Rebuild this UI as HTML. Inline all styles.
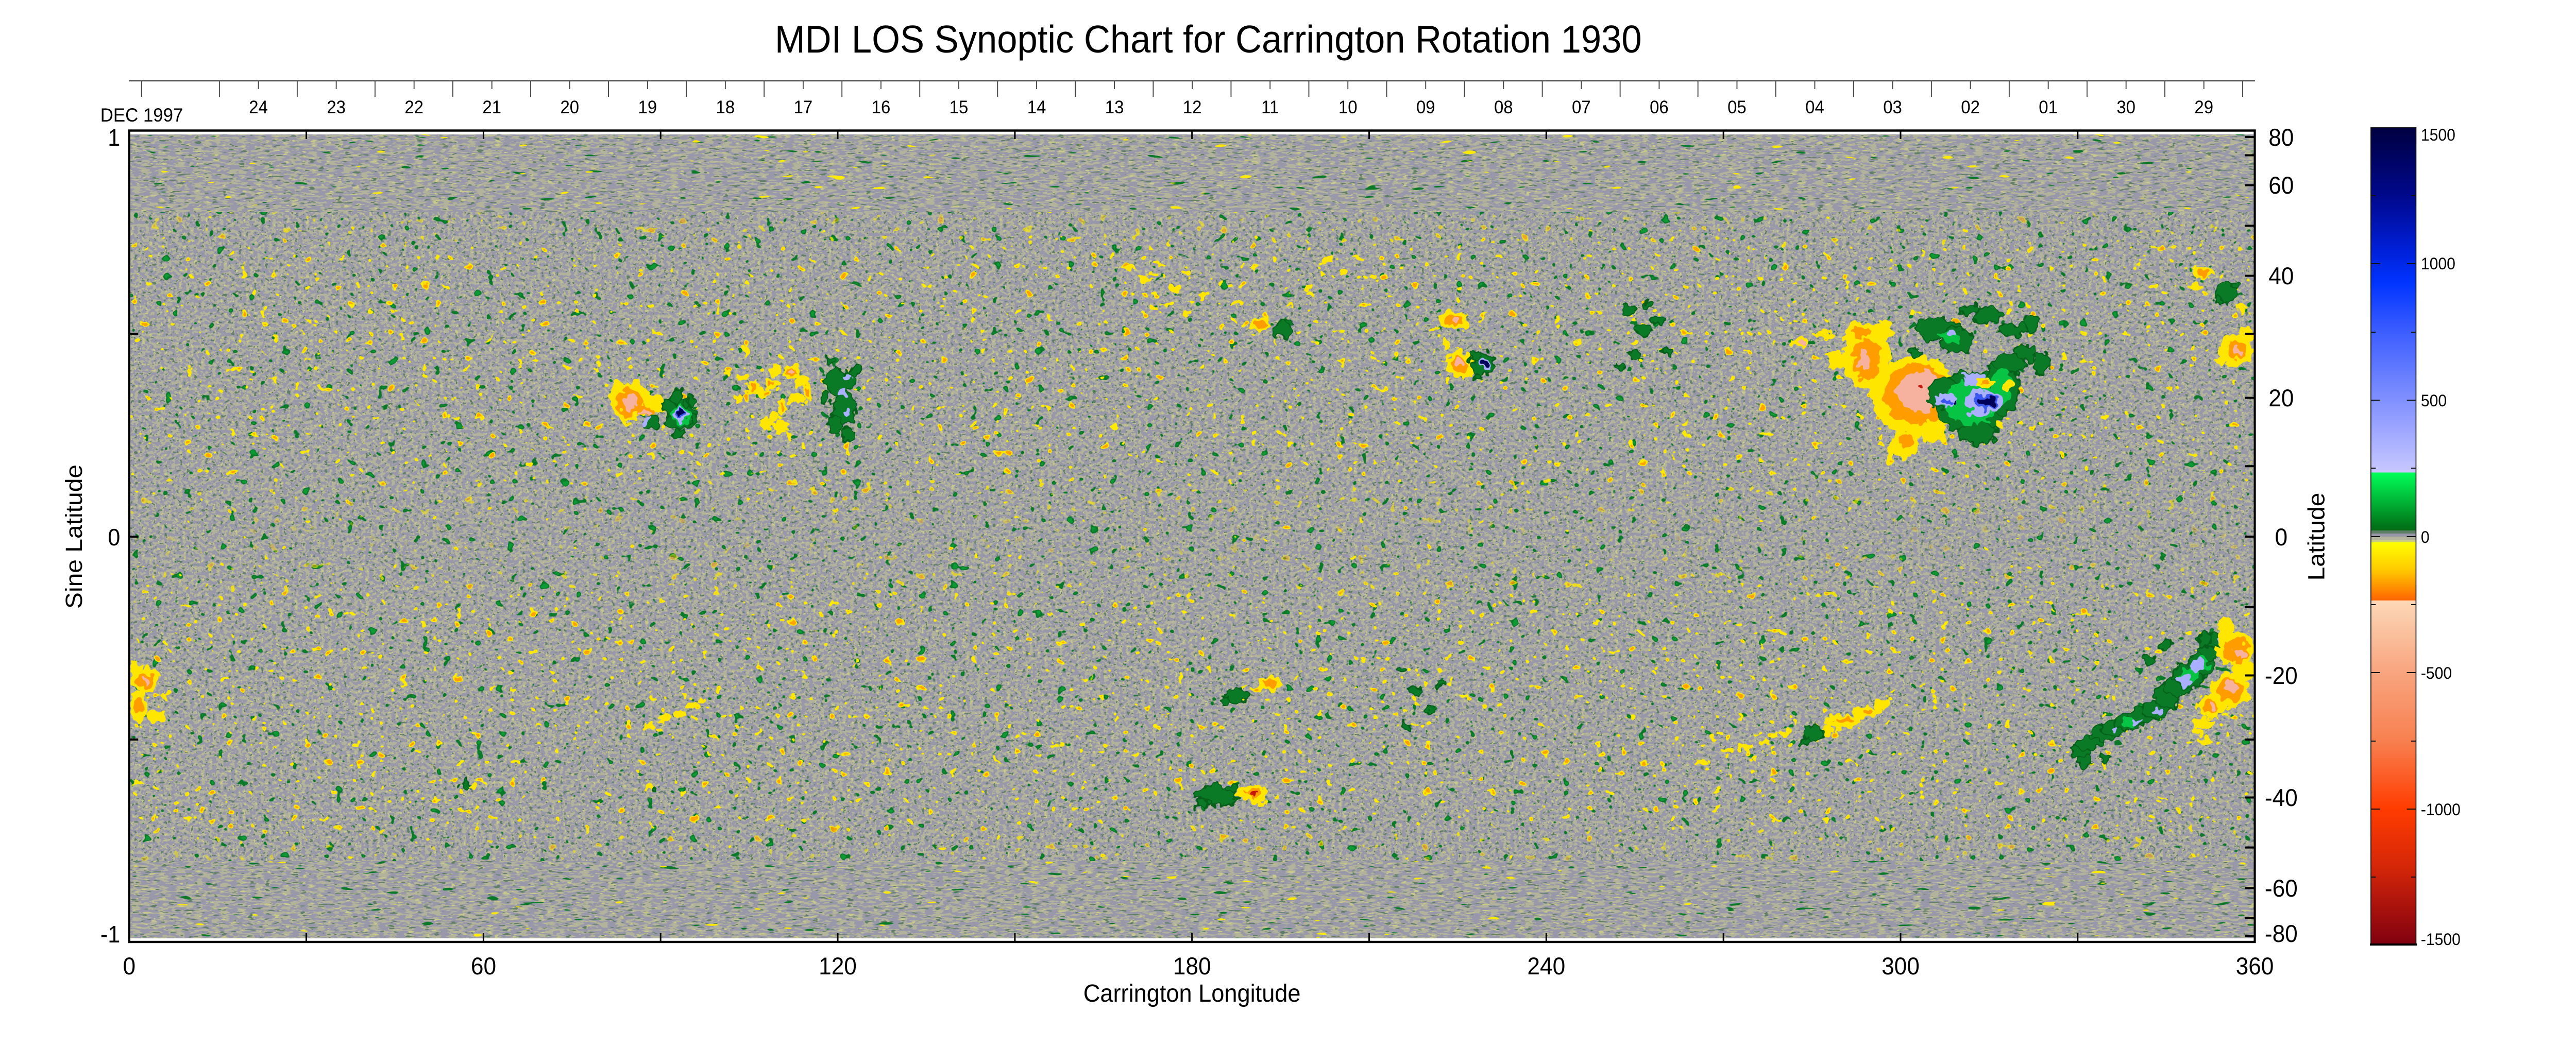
<!DOCTYPE html>
<html><head><meta charset="utf-8">
<style>
html,body{margin:0;padding:0;background:#fff;width:100%;height:100%;overflow:hidden}
svg{position:fixed;left:0;top:0;width:100vw;height:100vh;display:block}
text{font-family:"Liberation Sans",Arial,Helvetica,sans-serif;fill:#000}
</style></head>
<body>
<svg xmlns="http://www.w3.org/2000/svg" viewBox="0 0 5313 2033" preserveAspectRatio="none">
<defs>
<style>
.y{fill:#ffe600}.o{fill:#ff9c00}.p{fill:#f6b29e}.r{fill:#c41808}
.g{fill:#0a7a26;stroke:#06601a;stroke-width:3}.gb{fill:#08c444}.lb{fill:#aab0ff}.b{fill:#3a58f0}.n{fill:#000058}
</style>
<clipPath id="dc"><rect x="268.5" y="261" width="4380" height="1561"/></clipPath>

<filter id="texm" x="0" y="0" width="1" height="1" color-interpolation-filters="sRGB">
 <feTurbulence type="fractalNoise" baseFrequency="0.13 0.17" numOctaves="2" seed="11" result="n"/>
 <feColorMatrix in="n" type="matrix" values="0 0 0 0 0.702 0 0 0 0 0.702 0 0 0 0 0.608 30 0 0 0 -15" result="k"/>
 <feColorMatrix in="n" type="matrix" values="0 0 0 0 0.79 0 0 0 0 0.79 0 0 0 0 0.54 0 0 30 0 -20.4" result="l"/>
 <feColorMatrix in="n" type="matrix" values="0 0 0 0 0.373 0 0 0 0 0.498 0 0 0 0 0.4 0 30 0 0 -19.8" result="d"/>
 <feMerge><feMergeNode in="k"/><feMergeNode in="l"/><feMergeNode in="d"/></feMerge>
</filter>
<filter id="texp" x="0" y="0" width="1" height="1" color-interpolation-filters="sRGB">
 <feTurbulence type="fractalNoise" baseFrequency="0.055 0.24" numOctaves="2" seed="13" result="n"/>
 <feColorMatrix in="n" type="matrix" values="0 0 0 0 0.702 0 0 0 0 0.702 0 0 0 0 0.608 30 0 0 0 -15" result="k"/>
 <feColorMatrix in="n" type="matrix" values="0 0 0 0 0.79 0 0 0 0 0.79 0 0 0 0 0.54 0 0 30 0 -20.4" result="l"/>
 <feColorMatrix in="n" type="matrix" values="0 0 0 0 0.373 0 0 0 0 0.498 0 0 0 0 0.4 0 30 0 0 -19.8" result="d"/>
 <feMerge><feMergeNode in="k"/><feMergeNode in="l"/><feMergeNode in="d"/></feMerge>
</filter>
<filter id="spkm" x="0" y="0" width="1" height="1" color-interpolation-filters="sRGB">
 <feTurbulence type="fractalNoise" baseFrequency="0.045 0.055" numOctaves="2" seed="51" result="n"/>
 <feColorMatrix in="n" type="matrix" values="0 0 0 0 0.04 0 0 0 0 0.48 0 0 0 0 0.16 40 0 0 0 -28.4" result="g"/>
 <feColorMatrix in="n" type="matrix" values="0 0 0 0 0.05 0 0 0 0 0.6 0 0 0 0 0.2 40 0 0 0 -31.6" result="g2"/>
 <feColorMatrix in="n" type="matrix" values="0 0 0 0 1 0 0 0 0 0.92 0 0 0 0 0 0 40 0 0 -32" result="y"/>
 <feColorMatrix in="n" type="matrix" values="0 0 0 0 1 0 0 0 0 0.62 0 0 0 0 0 0 40 0 0 -34.4" result="y2"/>
 <feMerge><feMergeNode in="g"/><feMergeNode in="g2"/><feMergeNode in="y"/><feMergeNode in="y2"/></feMerge>
</filter>
<filter id="spkp" x="0" y="0" width="1" height="1" color-interpolation-filters="sRGB">
 <feTurbulence type="fractalNoise" baseFrequency="0.02 0.1" numOctaves="2" seed="53" result="n"/>
 <feColorMatrix in="n" type="matrix" values="0 0 0 0 0.04 0 0 0 0 0.48 0 0 0 0 0.16 40 0 0 0 -30.4" result="g"/>
 <feColorMatrix in="n" type="matrix" values="0 0 0 0 1 0 0 0 0 0.92 0 0 0 0 0 0 40 0 0 -31.2" result="y"/>
 <feMerge><feMergeNode in="g"/><feMergeNode in="y"/></feMerge>
</filter>
<filter id="ybx" x="0" y="0" width="1" height="1" color-interpolation-filters="sRGB">
 <feTurbulence type="fractalNoise" baseFrequency="0.045 0.055" numOctaves="2" seed="77" result="n"/>
 <feColorMatrix in="n" type="matrix" values="0 0 0 0 1 0 0 0 0 0.92 0 0 0 0 0 0 0 40 0 -28.6" result="y"/>
 <feColorMatrix in="n" type="matrix" values="0 0 0 0 1 0 0 0 0 0.64 0 0 0 0 0 0 0 40 0 -31.6" result="y2"/>
 <feMerge><feMergeNode in="y"/><feMergeNode in="y2"/></feMerge>
</filter>
<filter id="org" filterUnits="userSpaceOnUse" x="260" y="250" width="4400" height="1580" color-interpolation-filters="sRGB">
 <feTurbulence type="fractalNoise" baseFrequency="0.06" numOctaves="2" seed="5" result="t"/>
 <feDisplacementMap in="SourceGraphic" in2="t" scale="26" xChannelSelector="R" yChannelSelector="B"/>
</filter>
<linearGradient id="ymg" gradientUnits="userSpaceOnUse" x1="0" y1="255" x2="0" y2="1830">
 <stop offset="0" stop-color="#000"/><stop offset="0.07" stop-color="#111"/>
 <stop offset="0.15" stop-color="#fff"/><stop offset="0.42" stop-color="#fff"/>
 <stop offset="0.5" stop-color="#333"/><stop offset="0.58" stop-color="#fff"/>
 <stop offset="0.85" stop-color="#fff"/><stop offset="0.93" stop-color="#111"/><stop offset="1" stop-color="#000"/>
</linearGradient>
<mask id="ym" maskUnits="userSpaceOnUse" x="260" y="250" width="4400" height="1590">
 <rect x="260" y="250" width="4400" height="1590" fill="url(#ymg)"/>
</mask>
<linearGradient id="cb" x1="0" y1="0" x2="0" y2="1">
 <stop offset="0" stop-color="#000040"/>
 <stop offset="0.083" stop-color="#00088c"/>
 <stop offset="0.15" stop-color="#0020d8"/>
 <stop offset="0.19" stop-color="#0034ff"/>
 <stop offset="0.25" stop-color="#3d5eff"/>
 <stop offset="0.333" stop-color="#8090ff"/>
 <stop offset="0.422" stop-color="#c8c8ff"/>
 <stop offset="0.422" stop-color="#00ff58"/>
 <stop offset="0.4928" stop-color="#006a14"/>
 <stop offset="0.4928" stop-color="#5e7e66"/>
 <stop offset="0.4965" stop-color="#5e7e66"/>
 <stop offset="0.4965" stop-color="#9898a8"/>
 <stop offset="0.5003" stop-color="#9898a8"/>
 <stop offset="0.5003" stop-color="#b4b49c"/>
 <stop offset="0.5041" stop-color="#b4b49c"/>
 <stop offset="0.5041" stop-color="#caca8a"/>
 <stop offset="0.5072" stop-color="#caca8a"/>
 <stop offset="0.5072" stop-color="#ffff00"/>
 <stop offset="0.54" stop-color="#ffcc00"/>
 <stop offset="0.5785" stop-color="#ff6400"/>
 <stop offset="0.5785" stop-color="#fcd8b8"/>
 <stop offset="0.667" stop-color="#f8a47e"/>
 <stop offset="0.75" stop-color="#f88050"/>
 <stop offset="0.833" stop-color="#ff3c00"/>
 <stop offset="0.9" stop-color="#d82808"/>
 <stop offset="1" stop-color="#800010"/>
</linearGradient>
</defs>

<rect width="5313" height="2033" fill="#fff"/>

<!-- Title -->
<text x="1598" y="102" font-size="75">MDI LOS Synoptic Chart for Carrington Rotation 1930</text>

<!-- Date axis -->
<line x1="266" y1="157" x2="4651" y2="157" stroke="#444" stroke-width="2.2"/>
<path stroke="#444" stroke-width="2" fill="none" d="M292 157V188M452.5 157V188M613 157V188M773.5 157V188M934 157V188M1094.5 157V188M1255 157V188M1415.5 157V188M1576 157V188M1736.5 157V188M1897 157V188M2057.5 157V188M2218 157V188M2378.5 157V188M2539 157V188M2699.5 157V188M2860 157V188M3020.5 157V188M3181 157V188M3341.5 157V188M3502 157V188M3662.5 157V188M3823 157V188M3983.5 157V188M4144 157V188M4304.5 157V188M4465 157V188M4625.5 157V188"/>
<path stroke="#444" stroke-width="2" fill="none" d="M533 157V173M693.5 157V173M854 157V173M1014.5 157V173M1175 157V173M1335.5 157V173M1496 157V173M1656.5 157V173M1817 157V173M1977.5 157V173M2138 157V173M2298.5 157V173M2459 157V173M2619.5 157V173M2780 157V173M2940.5 157V173M3101 157V173M3261.5 157V173M3422 157V173M3582.5 157V173M3743 157V173M3903.5 157V173M4064 157V173M4224.5 157V173M4385 157V173M4545.5 157V173"/>
<g font-size="35" text-anchor="middle">
<text x="533" y="220">24</text><text x="693.5" y="220">23</text><text x="854" y="220">22</text><text x="1014.5" y="220">21</text>
<text x="1175" y="220">20</text><text x="1335.5" y="220">19</text><text x="1496" y="220">18</text><text x="1656.5" y="220">17</text>
<text x="1817" y="220">16</text><text x="1977.5" y="220">15</text><text x="2138" y="220">14</text><text x="2298.5" y="220">13</text>
<text x="2459" y="220">12</text><text x="2619.5" y="220">11</text><text x="2780" y="220">10</text><text x="2940.5" y="220">09</text>
<text x="3101" y="220">08</text><text x="3261.5" y="220">07</text><text x="3422" y="220">06</text><text x="3582.5" y="220">05</text>
<text x="3743" y="220">04</text><text x="3903.5" y="220">03</text><text x="4064" y="220">02</text><text x="4224.5" y="220">01</text>
<text x="4385" y="220">30</text><text x="4545.5" y="220">29</text>
</g>
<text x="207" y="236" font-size="37">DEC 1997</text>

<!-- Data -->
<g clip-path="url(#dc)">
 <rect x="268" y="255" width="4384" height="1575" fill="#9898aa"/>
 <rect x="268" y="255" width="2192" height="157" filter="url(#texp)"/>
 <rect x="2460" y="255" width="2192" height="157" filter="url(#texp)"/>
 <rect x="268" y="412" width="2192" height="1260" filter="url(#texm)"/>
 <rect x="2460" y="412" width="2192" height="1260" filter="url(#texm)"/>
 <rect x="268" y="1672" width="2192" height="158" filter="url(#texp)"/>
 <rect x="2460" y="1672" width="2192" height="158" filter="url(#texp)"/>

 <rect x="268" y="255" width="2192" height="157" filter="url(#spkp)"/>
 <rect x="2460" y="255" width="2192" height="157" filter="url(#spkp)"/>
 <rect x="268" y="412" width="2192" height="1260" filter="url(#spkm)"/>
 <rect x="2460" y="412" width="2192" height="1260" filter="url(#spkm)"/>
 <rect x="268" y="1672" width="2192" height="158" filter="url(#spkp)"/>
 <rect x="2460" y="1672" width="2192" height="158" filter="url(#spkp)"/>

 <g mask="url(#ym)">
  <rect x="268" y="412" width="2192" height="1260" filter="url(#ybx)"/>
  <rect x="2460" y="412" width="2192" height="1260" filter="url(#ybx)"/>
 </g>

 <g filter="url(#org)">
  <!-- Region A negative -->
  <ellipse cx="3950" cy="770" rx="90" ry="78" class="y"/>
  <ellipse cx="3850" cy="690" rx="50" ry="65" class="y"/>
  <ellipse cx="3835" cy="640" rx="30" ry="18" class="y"/>
  <ellipse cx="3880" cy="645" rx="25" ry="20" class="y"/>
  <ellipse cx="3930" cy="860" rx="30" ry="30" class="y"/>
  <ellipse cx="3990" cy="845" rx="25" ry="15" class="y"/>
  <ellipse cx="3785" cy="700" rx="18" ry="20" class="y"/>
  <ellipse cx="3760" cy="650" rx="22" ry="9" class="y"/>
  <ellipse cx="3712" cy="665" rx="14" ry="12" class="y"/>
  <ellipse cx="3900" cy="880" rx="8" ry="22" class="y"/>
  <ellipse cx="3955" cy="765" rx="70" ry="58" class="o"/>
  <ellipse cx="3850" cy="700" rx="28" ry="42" class="o"/>
  <ellipse cx="3840" cy="645" rx="18" ry="10" class="o"/>
  <ellipse cx="3930" cy="855" rx="15" ry="15" class="o"/>
  <ellipse cx="3960" cy="760" rx="48" ry="42" class="p"/>
  <ellipse cx="3845" cy="700" rx="10" ry="22" class="p"/>
  <ellipse cx="3715" cy="665" rx="7" ry="6" class="p"/>
  <ellipse cx="3957" cy="753" rx="7" ry="6" class="r"/>
  <!-- Region A positive -->
  <ellipse cx="4065" cy="780" rx="75" ry="60" class="g"/>
  <ellipse cx="4010" cy="765" rx="35" ry="30" class="g"/>
  <ellipse cx="4130" cy="750" rx="35" ry="55" class="g"/>
  <ellipse cx="4080" cy="840" rx="40" ry="22" class="g"/>
  <ellipse cx="3995" cy="640" rx="45" ry="22" class="g"/>
  <ellipse cx="4035" cy="660" rx="35" ry="25" class="g"/>
  <ellipse cx="4060" cy="600" rx="22" ry="10" class="g"/>
  <ellipse cx="4100" cy="612" rx="28" ry="15" class="g"/>
  <ellipse cx="4150" cy="640" rx="32" ry="12" class="g"/>
  <ellipse cx="4190" cy="625" rx="16" ry="16" class="g"/>
  <ellipse cx="4175" cy="685" rx="22" ry="16" class="g"/>
  <ellipse cx="4210" cy="705" rx="16" ry="22" class="g"/>
  <ellipse cx="4145" cy="705" rx="30" ry="18" class="g"/>
  <ellipse cx="3950" cy="685" rx="15" ry="8" class="g"/>
  <ellipse cx="4065" cy="780" rx="55" ry="45" class="gb"/>
  <ellipse cx="4020" cy="655" rx="25" ry="12" class="gb"/>
  <ellipse cx="4130" cy="750" rx="20" ry="35" class="gb"/>
  <ellipse cx="4090" cy="780" rx="38" ry="26" class="lb"/>
  <ellipse cx="4010" cy="778" rx="24" ry="13" class="lb"/>
  <ellipse cx="4070" cy="735" rx="20" ry="14" class="lb"/>
  <ellipse cx="4025" cy="648" rx="10" ry="6" class="lb"/>
  <ellipse cx="4095" cy="780" rx="25" ry="16" class="b"/>
  <ellipse cx="4015" cy="780" rx="10" ry="6" class="b"/>
  <ellipse cx="4098" cy="780" rx="18" ry="10" class="n"/>
  <ellipse cx="4032" cy="784" rx="6" ry="6" class="n"/>
  <ellipse cx="4095" cy="743" rx="20" ry="10" class="y"/>
  <ellipse cx="4095" cy="743" rx="11" ry="5" class="o"/>
  <ellipse cx="4140" cy="750" rx="12" ry="12" class="y"/>
  <ellipse cx="4123" cy="823" rx="8" ry="6" class="y"/>

  <!-- Region B (south, lon 330-360) -->
  <ellipse cx="4290" cy="1460" rx="18" ry="14" class="g"/>
  <ellipse cx="4312" cy="1442" rx="25" ry="14" class="g"/>
  <ellipse cx="4335" cy="1425" rx="28" ry="14" class="g"/>
  <ellipse cx="4362" cy="1412" rx="30" ry="15" class="g"/>
  <ellipse cx="4392" cy="1402" rx="30" ry="17" class="g"/>
  <ellipse cx="4420" cy="1392" rx="30" ry="15" class="g"/>
  <ellipse cx="4447" cy="1377" rx="26" ry="20" class="g"/>
  <ellipse cx="4470" cy="1352" rx="25" ry="25" class="g"/>
  <ellipse cx="4492" cy="1332" rx="30" ry="20" class="g"/>
  <ellipse cx="4515" cy="1312" rx="35" ry="25" class="g"/>
  <ellipse cx="4540" cy="1290" rx="26" ry="26" class="g"/>
  <ellipse cx="4556" cy="1262" rx="20" ry="20" class="g"/>
  <ellipse cx="4575" cy="1242" rx="22" ry="15" class="g"/>
  <ellipse cx="4600" cy="1240" rx="16" ry="16" class="g"/>
  <ellipse cx="4545" cy="1240" rx="10" ry="15" class="g"/>
  <ellipse cx="4470" cy="1252" rx="14" ry="10" class="g"/>
  <ellipse cx="4432" cy="1282" rx="10" ry="8" class="g"/>
  <ellipse cx="4300" cy="1480" rx="15" ry="10" class="g"/>
  <ellipse cx="4340" cy="1470" rx="10" ry="8" class="g"/>
  <ellipse cx="4515" cy="1312" rx="20" ry="14" class="gb"/>
  <ellipse cx="4540" cy="1290" rx="15" ry="15" class="gb"/>
  <ellipse cx="4390" cy="1402" rx="15" ry="8" class="gb"/>
  <ellipse cx="4407" cy="1400" rx="11" ry="5" class="lb"/>
  <ellipse cx="4447" cy="1383" rx="11" ry="6" class="lb"/>
  <ellipse cx="4505" cy="1322" rx="20" ry="10" class="lb"/>
  <ellipse cx="4535" cy="1293" rx="14" ry="14" class="lb"/>
  <ellipse cx="4580" cy="1243" rx="8" ry="6" class="lb"/>
  <ellipse cx="4597" cy="1254" rx="6" ry="8" class="lb"/>
  <ellipse cx="4362" cy="1412" rx="6" ry="4" class="lb"/>
  <ellipse cx="4610" cy="1258" rx="38" ry="34" class="y"/>
  <ellipse cx="4628" cy="1300" rx="25" ry="22" class="y"/>
  <ellipse cx="4598" cy="1340" rx="42" ry="32" class="y"/>
  <ellipse cx="4560" cy="1372" rx="28" ry="24" class="y"/>
  <ellipse cx="4590" cy="1222" rx="15" ry="25" class="y"/>
  <ellipse cx="4545" cy="1405" rx="22" ry="10" class="y"/>
  <ellipse cx="4530" cy="1422" rx="12" ry="6" class="y"/>
  <ellipse cx="4548" cy="1437" rx="16" ry="6" class="y"/>
  <ellipse cx="4612" cy="1262" rx="26" ry="24" class="o"/>
  <ellipse cx="4600" cy="1340" rx="30" ry="22" class="o"/>
  <ellipse cx="4560" cy="1372" rx="16" ry="14" class="o"/>
  <ellipse cx="4617" cy="1270" rx="14" ry="10" class="p"/>
  <ellipse cx="4605" cy="1332" rx="12" ry="10" class="p"/>
  <ellipse cx="4563" cy="1373" rx="8" ry="8" class="p"/>

  <!-- Region C -->
  <ellipse cx="1302" cy="780" rx="40" ry="35" class="y"/>
  <ellipse cx="1275" cy="760" rx="15" ry="22" class="y"/>
  <ellipse cx="1345" cy="785" rx="22" ry="18" class="y"/>
  <ellipse cx="1368" cy="792" rx="12" ry="10" class="y"/>
  <ellipse cx="1285" cy="805" rx="10" ry="16" class="y"/>
  <ellipse cx="1315" cy="745" rx="12" ry="8" class="y"/>
  <ellipse cx="1300" cy="780" rx="28" ry="25" class="o"/>
  <ellipse cx="1333" cy="798" rx="18" ry="12" class="o"/>
  <ellipse cx="1300" cy="782" rx="12" ry="18" class="p"/>
  <ellipse cx="1330" cy="801" rx="11" ry="7" class="p"/>
  <ellipse cx="1404" cy="805" rx="32" ry="27" class="g"/>
  <ellipse cx="1380" cy="790" rx="15" ry="15" class="g"/>
  <ellipse cx="1398" cy="770" rx="12" ry="12" class="g"/>
  <ellipse cx="1345" cy="822" rx="16" ry="12" class="g"/>
  <ellipse cx="1398" cy="842" rx="12" ry="9" class="g"/>
  <ellipse cx="1425" cy="780" rx="11" ry="10" class="g"/>
  <ellipse cx="1432" cy="815" rx="10" ry="10" class="g"/>
  <ellipse cx="1404" cy="805" rx="20" ry="18" class="gb"/>
  <ellipse cx="1404" cy="805" rx="14" ry="13" class="lb"/>
  <ellipse cx="1333" cy="818" rx="8" ry="5" class="lb"/>
  <ellipse cx="1404" cy="804" rx="10" ry="9" class="b"/>
  <ellipse cx="1404" cy="803" rx="7" ry="7" class="n"/>

  <!-- Region D -->
  <ellipse cx="1532" cy="735" rx="14" ry="8" class="y"/>
  <ellipse cx="1555" cy="752" rx="12" ry="15" class="y"/>
  <ellipse cx="1577" cy="762" rx="20" ry="9" class="y"/>
  <ellipse cx="1590" cy="745" rx="12" ry="12" class="y"/>
  <ellipse cx="1596" cy="720" rx="12" ry="10" class="y"/>
  <ellipse cx="1632" cy="722" rx="15" ry="15" class="y"/>
  <ellipse cx="1655" cy="740" rx="16" ry="12" class="y"/>
  <ellipse cx="1665" cy="762" rx="10" ry="20" class="y"/>
  <ellipse cx="1640" cy="772" rx="15" ry="12" class="y"/>
  <ellipse cx="1612" cy="792" rx="11" ry="15" class="y"/>
  <ellipse cx="1596" cy="808" rx="8" ry="10" class="y"/>
  <ellipse cx="1582" cy="822" rx="15" ry="10" class="y"/>
  <ellipse cx="1612" cy="828" rx="17" ry="12" class="y"/>
  <ellipse cx="1520" cy="775" rx="7" ry="7" class="y"/>
  <ellipse cx="1500" cy="725" rx="6" ry="5" class="y"/>
  <ellipse cx="1540" cy="680" rx="6" ry="10" class="y"/>
  <ellipse cx="1625" cy="845" rx="6" ry="8" class="y"/>
  <ellipse cx="1555" cy="752" rx="6" ry="8" class="o"/>
  <ellipse cx="1583" cy="762" rx="8" ry="4" class="o"/>
  <ellipse cx="1632" cy="722" rx="8" ry="8" class="o"/>
  <ellipse cx="1665" cy="762" rx="5" ry="11" class="o"/>
  <ellipse cx="1612" cy="792" rx="5" ry="8" class="o"/>
  <ellipse cx="1590" cy="745" rx="6" ry="6" class="o"/>
  <ellipse cx="1632" cy="722" rx="4" ry="4" class="p"/>
  <ellipse cx="1732" cy="742" rx="30" ry="25" class="g"/>
  <ellipse cx="1742" cy="792" rx="25" ry="30" class="g"/>
  <ellipse cx="1722" cy="822" rx="15" ry="20" class="g"/>
  <ellipse cx="1747" cy="842" rx="12" ry="12" class="g"/>
  <ellipse cx="1702" cy="772" rx="10" ry="12" class="g"/>
  <ellipse cx="1762" cy="720" rx="10" ry="10" class="g"/>
  <ellipse cx="1716" cy="700" rx="8" ry="6" class="g"/>
  <ellipse cx="1737" cy="762" rx="10" ry="6" class="lb"/>
  <ellipse cx="1747" cy="800" rx="8" ry="6" class="lb"/>
  <ellipse cx="1748" cy="730" rx="6" ry="5" class="lb"/>

  <!-- Region E -->
  <ellipse cx="2998" cy="622" rx="32" ry="20" class="y"/>
  <ellipse cx="3010" cy="708" rx="30" ry="26" class="y"/>
  <ellipse cx="2980" cy="665" rx="10" ry="12" class="y"/>
  <ellipse cx="2960" cy="640" rx="8" ry="6" class="y"/>
  <ellipse cx="2998" cy="622" rx="20" ry="12" class="o"/>
  <ellipse cx="3010" cy="708" rx="18" ry="15" class="o"/>
  <ellipse cx="3002" cy="622" rx="8" ry="6" class="p"/>
  <ellipse cx="3012" cy="706" rx="8" ry="7" class="p"/>
  <ellipse cx="3060" cy="705" rx="22" ry="22" class="g"/>
  <ellipse cx="3040" cy="690" rx="12" ry="10" class="g"/>
  <ellipse cx="3050" cy="730" rx="10" ry="8" class="g"/>
  <ellipse cx="3062" cy="708" rx="12" ry="12" class="lb"/>
  <ellipse cx="3062" cy="708" rx="7" ry="7" class="n"/>

  <!-- Region F -->
  <ellipse cx="2600" cy="632" rx="26" ry="13" class="y"/>
  <ellipse cx="2600" cy="632" rx="14" ry="7" class="o"/>
  <ellipse cx="2645" cy="640" rx="15" ry="14" class="g"/>
  <ellipse cx="2660" cy="625" rx="8" ry="6" class="g"/>

  <!-- Region G -->
  <ellipse cx="4612" cy="680" rx="35" ry="30" class="y"/>
  <ellipse cx="4632" cy="650" rx="15" ry="15" class="y"/>
  <ellipse cx="4582" cy="700" rx="15" ry="10" class="y"/>
  <ellipse cx="4543" cy="533" rx="22" ry="11" class="y"/>
  <ellipse cx="4530" cy="556" rx="16" ry="8" class="y"/>
  <ellipse cx="4625" cy="600" rx="8" ry="8" class="y"/>
  <ellipse cx="4612" cy="680" rx="20" ry="18" class="o"/>
  <ellipse cx="4545" cy="533" rx="12" ry="6" class="o"/>
  <ellipse cx="4615" cy="682" rx="8" ry="8" class="p"/>
  <ellipse cx="4590" cy="568" rx="20" ry="22" class="g"/>
  <ellipse cx="4612" cy="553" rx="10" ry="7" class="g"/>
  <ellipse cx="4575" cy="585" rx="8" ry="8" class="g"/>

  <!-- Region H scattered plage -->
  <ellipse cx="2330" cy="520" rx="12" ry="6" class="y"/>
  <ellipse cx="2360" cy="540" rx="15" ry="8" class="y"/>
  <ellipse cx="2395" cy="515" rx="10" ry="5" class="y"/>
  <ellipse cx="2420" cy="560" rx="14" ry="7" class="y"/>
  <ellipse cx="2450" cy="530" rx="10" ry="6" class="y"/>
  <ellipse cx="2480" cy="575" rx="12" ry="8" class="y"/>
  <ellipse cx="2520" cy="550" rx="9" ry="5" class="y"/>
  <ellipse cx="2550" cy="590" rx="12" ry="6" class="y"/>
  <ellipse cx="2740" cy="505" rx="14" ry="7" class="y"/>
  <ellipse cx="2770" cy="530" rx="10" ry="5" class="y"/>
  <ellipse cx="2800" cy="500" rx="12" ry="6" class="y"/>
  <ellipse cx="2830" cy="540" rx="9" ry="6" class="y"/>
  <ellipse cx="2700" cy="560" rx="8" ry="5" class="y"/>
  <ellipse cx="2450" cy="610" rx="9" ry="5" class="y"/>
  <ellipse cx="2380" cy="600" rx="10" ry="6" class="y"/>
  <ellipse cx="2660" cy="595" rx="8" ry="5" class="y"/>

  <!-- Region I green cluster -->
  <ellipse cx="3360" cy="600" rx="14" ry="10" class="g"/>
  <ellipse cx="3390" cy="640" rx="16" ry="12" class="g"/>
  <ellipse cx="3420" cy="620" rx="12" ry="8" class="g"/>
  <ellipse cx="3440" cy="680" rx="10" ry="10" class="g"/>
  <ellipse cx="3370" cy="690" rx="12" ry="8" class="g"/>
  <ellipse cx="3400" cy="590" rx="9" ry="7" class="g"/>
  <ellipse cx="3345" cy="710" rx="9" ry="7" class="g"/>

  <!-- Region J left edge south -->
  <ellipse cx="300" cy="1320" rx="30" ry="25" class="y"/>
  <ellipse cx="285" cy="1372" rx="20" ry="30" class="y"/>
  <ellipse cx="322" cy="1392" rx="20" ry="15" class="y"/>
  <ellipse cx="280" cy="1300" rx="12" ry="15" class="y"/>
  <ellipse cx="340" cy="1350" rx="8" ry="8" class="y"/>
  <ellipse cx="300" cy="1322" rx="18" ry="14" class="o"/>
  <ellipse cx="285" cy="1370" rx="10" ry="16" class="o"/>
  <ellipse cx="300" cy="1322" rx="7" ry="6" class="p"/>

  <!-- Region K -->
  <ellipse cx="2510" cy="1545" rx="42" ry="20" class="g"/>
  <ellipse cx="2478" cy="1560" rx="15" ry="10" class="g"/>
  <ellipse cx="2540" cy="1530" rx="12" ry="8" class="g"/>
  <ellipse cx="2582" cy="1540" rx="30" ry="18" class="y"/>
  <ellipse cx="2600" cy="1560" rx="10" ry="8" class="y"/>
  <ellipse cx="2582" cy="1540" rx="17" ry="10" class="o"/>
  <ellipse cx="2582" cy="1543" rx="6" ry="5" class="r"/>

  <!-- Region L -->
  <ellipse cx="2550" cy="1352" rx="25" ry="15" class="g"/>
  <ellipse cx="2530" cy="1360" rx="10" ry="8" class="g"/>
  <ellipse cx="2620" cy="1326" rx="27" ry="13" class="y"/>
  <ellipse cx="2600" cy="1335" rx="8" ry="6" class="y"/>
  <ellipse cx="2620" cy="1326" rx="14" ry="7" class="o"/>

  <!-- Region M -->
  <ellipse cx="3800" cy="1402" rx="42" ry="14" class="y"/>
  <ellipse cx="3850" cy="1382" rx="30" ry="12" class="y"/>
  <ellipse cx="3760" cy="1420" rx="25" ry="10" class="y"/>
  <ellipse cx="3882" cy="1367" rx="16" ry="10" class="y"/>
  <ellipse cx="3830" cy="1395" rx="10" ry="10" class="y"/>
  <ellipse cx="3805" cy="1400" rx="22" ry="7" class="o"/>
  <ellipse cx="3852" cy="1382" rx="12" ry="5" class="o"/>
  <ellipse cx="3742" cy="1426" rx="22" ry="15" class="g"/>
  <ellipse cx="3725" cy="1440" rx="10" ry="6" class="g"/>

  <!-- Region N -->
  <ellipse cx="3510" cy="1480" rx="14" ry="7" class="y"/>
  <ellipse cx="3560" cy="1460" rx="12" ry="6" class="y"/>
  <ellipse cx="3600" cy="1450" rx="14" ry="7" class="y"/>
  <ellipse cx="3640" cy="1440" rx="10" ry="6" class="y"/>
  <ellipse cx="3680" cy="1425" rx="12" ry="8" class="y"/>
  <ellipse cx="3530" cy="1430" rx="8" ry="5" class="y"/>
  <ellipse cx="3620" cy="1475" rx="9" ry="5" class="y"/>

  <!-- Region O -->
  <ellipse cx="1340" cy="1410" rx="14" ry="8" class="y"/>
  <ellipse cx="1370" cy="1395" rx="12" ry="7" class="y"/>
  <ellipse cx="1400" cy="1385" rx="15" ry="8" class="y"/>
  <ellipse cx="1430" cy="1370" rx="12" ry="8" class="y"/>
  <ellipse cx="1450" cy="1360" rx="8" ry="6" class="y"/>
  <ellipse cx="1360" cy="1420" rx="8" ry="5" class="y"/>

  <!-- small -->
  <ellipse cx="960" cy="1525" rx="10" ry="7" class="g"/>
  <ellipse cx="972" cy="1527" rx="6" ry="5" class="y"/>
  <ellipse cx="1338" cy="1531" rx="8" ry="6" class="y"/>
  <ellipse cx="1350" cy="1533" rx="6" ry="5" class="g"/>

  <!-- Region P -->
  <ellipse cx="2890" cy="1300" rx="10" ry="8" class="g"/>
  <ellipse cx="2920" cy="1340" rx="12" ry="9" class="g"/>
  <ellipse cx="2950" cy="1380" rx="10" ry="7" class="g"/>
  <ellipse cx="2900" cy="1410" rx="9" ry="7" class="g"/>
  <ellipse cx="2970" cy="1330" rx="8" ry="6" class="g"/>
 </g>
</g>

<!-- Frame -->
<rect x="266.5" y="253.5" width="4384" height="1575.5" fill="none" stroke="#000" stroke-width="4.4"/>
<!-- Top/bottom ticks -->
<path stroke="#000" stroke-width="3.2" fill="none" d="M631.8 255V270M997.2 255V270M1362.5 255V270M1727.8 255V270M2093.2 255V270M2458.5 255V270M2823.9 255V270M3189.2 255V270M3554.6 255V270M3919.9 255V270M4285.2 255V270
M631.8 1812V1827M997.2 1812V1827M1362.5 1812V1827M1727.8 1812V1827M2093.2 1812V1827M2458.5 1812V1827M2823.9 1812V1827M3189.2 1812V1827M3554.6 1812V1827M3919.9 1812V1827M4285.2 1812V1827"/>
<!-- Left ticks -->
<path stroke="#000" stroke-width="4" fill="none" d="M267 648H285M267 1042H285M267 1436H285"/>
<!-- Right ticks -->
<path stroke="#000" stroke-width="4" fill="none" d="M4630 266H4650M4630 301.5H4650M4630 359.6H4650M4630 438.4H4650M4630 535.5H4650M4630 648H4650M4630 772.5H4650M4630 905.2H4650M4630 1042H4650M4630 1178.8H4650M4630 1311.5H4650M4630 1436H4650M4630 1548.5H4650M4630 1645.6H4650M4630 1724.4H4650M4630 1782.5H4650M4630 1818H4650"/>

<!-- Left labels -->
<g font-size="46" text-anchor="end">
<text x="248" y="283">1</text>
<text x="248" y="1059">0</text>
<text x="248" y="1830">-1</text>
</g>
<!-- Right labels -->
<g font-size="47" text-anchor="middle">
<text x="4705" y="283">80</text>
<text x="4705" y="376">60</text>
<text x="4705" y="552">40</text>
<text x="4705" y="789">20</text>
<text x="4705" y="1059">0</text>
<text x="4705" y="1328">-20</text>
<text x="4705" y="1565">-40</text>
<text x="4705" y="1741">-60</text>
<text x="4705" y="1829">-80</text>
</g>
<!-- Bottom labels -->
<g font-size="47" text-anchor="middle">
<text x="266.5" y="1892">0</text>
<text x="997.2" y="1892">60</text>
<text x="1727.8" y="1892">120</text>
<text x="2458.5" y="1892">180</text>
<text x="3189.2" y="1892">240</text>
<text x="3919.9" y="1892">300</text>
<text x="4650.5" y="1892">360</text>
</g>
<text x="2458.5" y="1945" font-size="48" text-anchor="middle">Carrington Longitude</text>
<text transform="translate(169,1042) rotate(-90)" font-size="48" text-anchor="middle">Sine Latitude</text>
<text transform="translate(4794,1042) rotate(-90)" font-size="48" text-anchor="middle">Latitude</text>

<!-- Colorbar -->
<rect x="4890" y="248" width="93" height="1587" fill="url(#cb)"/>
<rect x="4890" y="248" width="93" height="1587" fill="none" stroke="#111" stroke-width="1.8"/>
<line x1="4888" y1="1834" x2="4985" y2="1834" stroke="#000" stroke-width="4"/>
<path stroke="#111" stroke-width="2" fill="none" d="M4890 512H4909M4964 512H4983M4890 777H4909M4964 777H4983M4890 1042H4909M4964 1042H4983M4890 1306H4909M4964 1306H4983M4890 1571H4909M4964 1571H4983
M4890 380H4900M4973 380H4983M4890 645H4900M4973 645H4983M4890 909H4900M4973 909H4983M4890 1174H4900M4973 1174H4983M4890 1439H4900M4973 1439H4983M4890 1703H4900M4973 1703H4983"/>
<g font-size="32">
<text x="4993" y="273">1500</text>
<text x="4993" y="523">1000</text>
<text x="4993" y="789">500</text>
<text x="4993" y="1054">0</text>
<text x="4993" y="1318">-500</text>
<text x="4993" y="1583">-1000</text>
<text x="4993" y="1835">-1500</text>
</g>
</svg>
</body></html>
